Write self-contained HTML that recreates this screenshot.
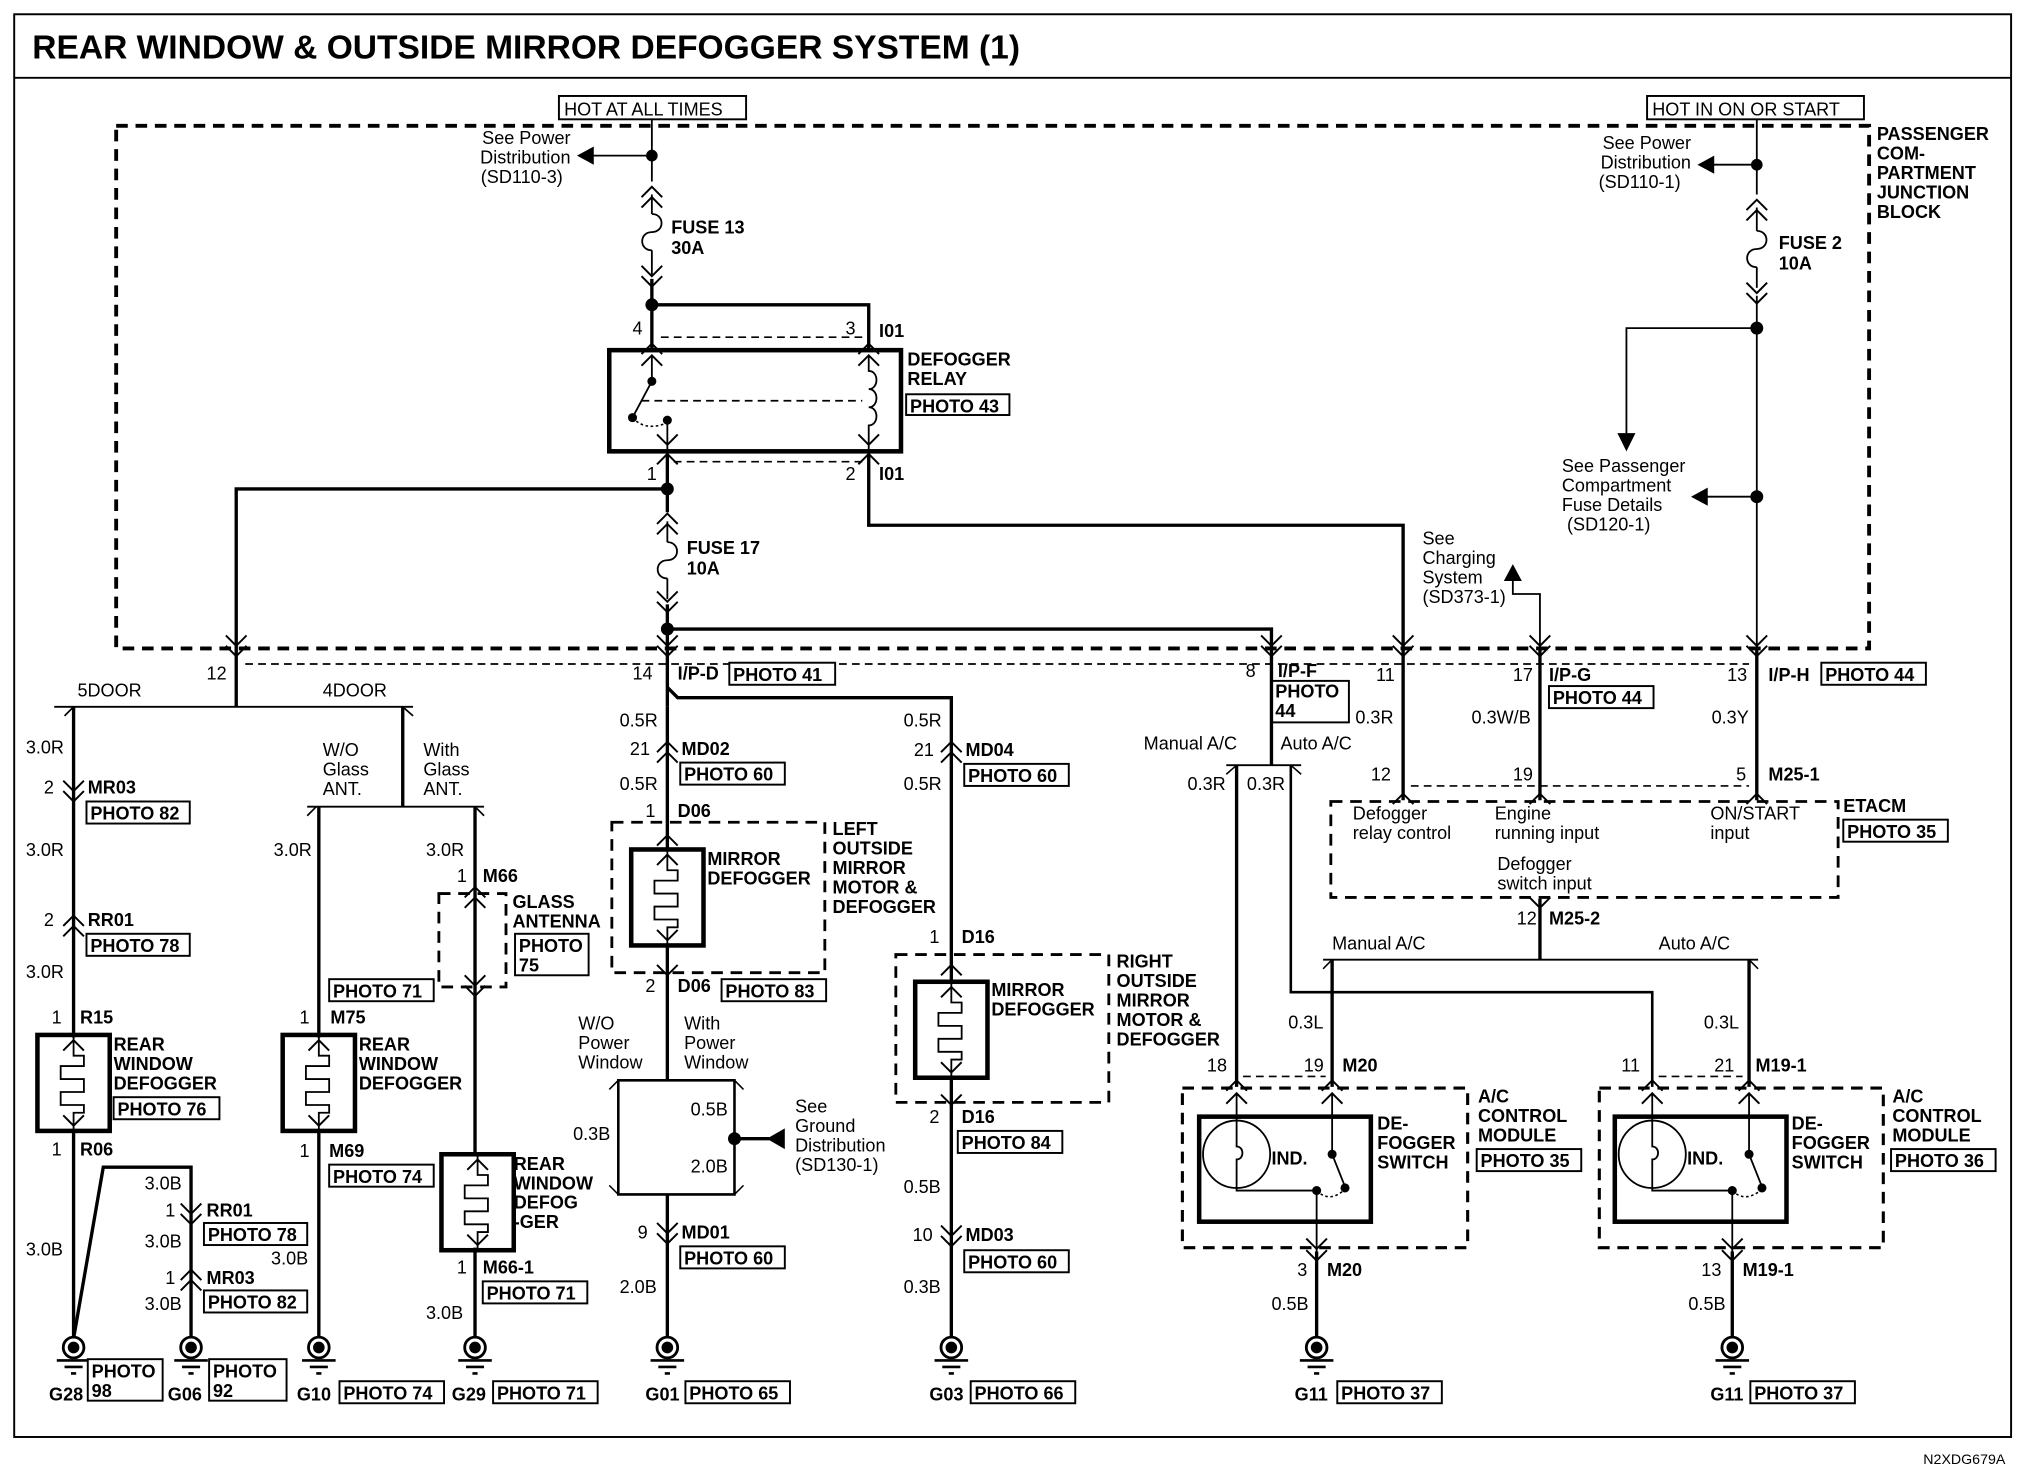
<!DOCTYPE html>
<html><head><meta charset="utf-8"><style>
html,body{margin:0;padding:0;background:#fff}
svg{display:block}
text{font-family:"Liberation Sans",sans-serif;font-size:14px;fill:#000}
.b{font-weight:bold}
.w{fill:none;stroke:#000;stroke-width:2.6}
.t{fill:none;stroke:#000;stroke-width:1.4}
.d{fill:none;stroke:#000;stroke-width:3;stroke-dasharray:9 6}
.dt{fill:none;stroke:#000;stroke-width:1.3;stroke-dasharray:6 4}
.bx{fill:#fff;stroke:#000;stroke-width:1.5}
.hb{fill:none;stroke:#000;stroke-width:3.5}
</style></head><body>
<svg width="2024" height="1472" viewBox="0 0 1568 1135" preserveAspectRatio="none" xmlns="http://www.w3.org/2000/svg">
<defs>
<g id="cd"><path d="M-8,-10 L0,-2 L8,-10 M-8,-2 L0,6 L8,-2" fill="none" stroke="#000" stroke-width="1.5"/></g>
<g id="cu"><path d="M-8,10 L0,2 L8,10 M-8,2 L0,-6 L8,2" fill="none" stroke="#000" stroke-width="1.5"/></g>
<g id="vd"><path d="M-8,-8 L0,0 L8,-8" fill="none" stroke="#000" stroke-width="1.5"/></g>
<g id="vu"><path d="M-8,8 L0,0 L8,8" fill="none" stroke="#000" stroke-width="1.5"/></g>
<g id="gnd"><circle r="8" fill="#fff" stroke="#000" stroke-width="2.2"/><circle r="4.5" fill="#000"/><path d="M-13,10 H13 M-7,15 H7 M-2,20 H2" stroke="#000" stroke-width="2" fill="none"/></g>
<g id="ht"><rect x="0" y="0" width="56" height="74" fill="none" stroke="#000" stroke-width="3.5"/><path d="M28,0 V16 H36 V24 H18 V34 H36 V44 H18 V54 H36 V60 H28 V74" fill="none" stroke="#000" stroke-width="1.4"/><use href="#vu" x="28" y="4"/><use href="#vd" x="28" y="70"/></g>
<g id="fuse"><path d="M0,0 C10,0 10,14 0,14 C-10,14 -10,28 0,28" fill="none" stroke="#000" stroke-width="1.4"/></g>
</defs>
<rect x="0" y="0" width="1568" height="1135" fill="#fff"/>
<rect x="11" y="11" width="1547" height="1097" fill="none" stroke="#000" stroke-width="1.5"/>
<line x1="11" y1="60" x2="1558" y2="60" stroke="#000" stroke-width="1.5"/>
<text x="25" y="45" class="b" style="font-size:26px">REAR WINDOW &amp; OUTSIDE MIRROR DEFOGGER SYSTEM (1)</text>
<text x="1490" y="1129" style="font-size:11px">N2XDG679A</text>

<path class="d" d="M90,97 H1448 V500 H90 Z"/>
<text class="b" x="1454" y="108">PASSENGER</text><text class="b" x="1454" y="123">COM-</text><text class="b" x="1454" y="138">PARTMENT</text><text class="b" x="1454" y="153">JUNCTION</text><text class="b" x="1454" y="168">BLOCK</text>

<rect class="bx" x="433" y="74" width="145" height="18"/><text x="437" y="89">HOT AT ALL TIMES</text>
<path class="t" d="M505,92 V140"/><circle cx="505" cy="120" r="4.5"/>
<path class="t" d="M505,120 H458"/><path d="M447,120 L460,113 L460,127 Z"/>
<text x="442" y="111" text-anchor="end">See Power</text><text x="442" y="126" text-anchor="end">Distribution</text><text x="436" y="141" text-anchor="end">(SD110-3)</text>
<use href="#cu" x="505" y="150"/><use href="#fuse" x="505" y="165"/><path class="t" d="M505,150 V165 M505,193 V212"/><use href="#cd" x="505" y="215"/>
<text class="b" x="520" y="180">FUSE 13</text><text class="b" x="520" y="196">30A</text>
<path class="w" d="M505,215 V270 M505,235 H673 V270"/><circle cx="505" cy="235" r="5"/>
<text x="490" y="258">4</text><text x="655" y="258">3</text><text class="b" x="681" y="260">I01</text>
<path class="dt" d="M512,260 H668"/>
<rect x="472" y="270" width="226" height="78" fill="none" stroke="#000" stroke-width="3.5"/>
<use href="#vu" x="505" y="265"/><use href="#vu" x="505" y="274"/><use href="#vu" x="673" y="265"/><use href="#vu" x="673" y="274"/>
<path class="t" d="M505,274 V294 L490,322"/><circle cx="505" cy="294" r="3.5"/><circle cx="490" cy="322" r="3.5"/><circle cx="517" cy="324" r="3.5"/>
<path d="M490,322 Q500,333 517,326" fill="none" stroke="#000" stroke-width="1.2" stroke-dasharray="2 2"/>
<path class="t" d="M517,324 V348"/><path class="dt" d="M497,309 H668"/>
<path class="t" d="M673,274 V286 C681,286 681,300 673,300 C681,300 681,314 673,314 C681,314 681,328 673,328 V348"/>
<use href="#vd" x="517" y="343"/><use href="#vd" x="673" y="343"/><use href="#vu" x="517" y="350"/><use href="#vu" x="673" y="350"/>
<path class="dt" d="M522,356 H668"/>
<text class="b" x="703" y="282">DEFOGGER</text><text class="b" x="703" y="297">RELAY</text>
<rect class="bx" x="702" y="304" width="80" height="16"/><text class="b" x="705" y="318">PHOTO 43</text>
<text x="501" y="370">1</text><text x="655" y="370">2</text><text class="b" x="681" y="370">I01</text>
<path class="w" d="M517,350 V395"/><circle cx="517" cy="377" r="5"/>
<path class="w" d="M517,377 H183 V500"/><use href="#cd" x="183" y="500"/>
<use href="#cu" x="517" y="402"/><use href="#fuse" x="517" y="418"/><path class="t" d="M517,402 V418 M517,446 V462"/><use href="#cd" x="517" y="466"/>
<text class="b" x="532" y="427">FUSE 17</text><text class="b" x="532" y="443">10A</text>
<path class="w" d="M517,466 V545"/><circle cx="517" cy="485" r="5"/><use href="#cd" x="517" y="500"/>
<path class="w" d="M673,350 V405 H1087 V500"/><use href="#cd" x="1087" y="500"/>
<path class="w" d="M517,485 H985 V500"/><use href="#cd" x="985" y="500"/>

<rect class="bx" x="1276" y="74" width="168" height="18"/><text x="1280" y="89">HOT IN ON OR START</text>
<path class="t" d="M1361,92 V150"/><circle cx="1361" cy="127" r="4.5"/>
<path class="t" d="M1361,127 H1327"/><path d="M1315,127 L1328,120 L1328,134 Z"/>
<text x="1310" y="115" text-anchor="end">See Power</text><text x="1310" y="130" text-anchor="end">Distribution</text><text x="1302" y="145" text-anchor="end">(SD110-1)</text>
<use href="#cu" x="1361" y="160"/><use href="#fuse" x="1361" y="178"/><path class="t" d="M1361,160 V178 M1361,206 V222"/><use href="#cd" x="1361" y="228"/>
<text class="b" x="1378" y="192">FUSE 2</text><text class="b" x="1378" y="208">10A</text>
<path class="t" d="M1361,228 V500 M1361,253 H1260 V335"/><circle cx="1361" cy="253" r="5"/><path d="M1253,334 L1267,334 L1260,348 Z"/>
<circle cx="1361" cy="383" r="5"/><path class="t" d="M1361,383 H1322"/><path d="M1310,383 L1323,376 L1323,390 Z"/>
<text x="1210" y="364">See Passenger</text><text x="1210" y="379">Compartment</text><text x="1210" y="394">Fuse Details</text><text x="1214" y="409">(SD120-1)</text>
<use href="#cd" x="1361" y="500"/>
<text x="1102" y="420">See</text><text x="1102" y="435">Charging</text><text x="1102" y="450">System</text><text x="1102" y="465">(SD373-1)</text>
<path class="t" d="M1193,500 V458 H1172 V446"/><path d="M1165,448 L1179,448 L1172,435 Z"/><use href="#cd" x="1193" y="500"/>

<path class="dt" d="M190,512 H1355"/>
<text x="160" y="524">12</text>
<text x="490" y="524">14</text><text class="b" x="525" y="524">I/P-D</text><rect class="bx" x="565" y="511" width="82" height="17"/><text class="b" x="568" y="525">PHOTO 41</text>
<text x="965" y="522">8</text><text class="b" x="990" y="522">I/P-F</text><rect class="bx" x="985" y="525" width="60" height="32"/><text class="b" x="988" y="538">PHOTO</text><text class="b" x="988" y="553">44</text>
<text x="1066" y="525">11</text>
<text x="1172" y="525">17</text><text class="b" x="1200" y="525">I/P-G</text><rect class="bx" x="1200" y="529" width="81" height="17"/><text class="b" x="1203" y="543">PHOTO 44</text>
<text x="1338" y="525">13</text><text class="b" x="1370" y="525">I/P-H</text><rect class="bx" x="1411" y="511" width="81" height="17"/><text class="b" x="1414" y="525">PHOTO 44</text>

<path class="w" d="M183,500 V545"/><path class="t" d="M42,545 H320"/>
<path d="M57,545 L50,552 M312,545 L320,552" stroke="#000" stroke-width="1.3"/>
<text x="60" y="537">5DOOR</text><text x="250" y="537">4DOOR</text>
<path class="w" d="M57,545 V800 M57,872 V1032"/>
<text x="20" y="581">3.0R</text><text x="34" y="612">2</text><use href="#cd" x="57" y="612"/><text class="b" x="68" y="612">MR03</text>
<rect class="bx" x="67" y="618" width="80" height="17"/><text class="b" x="70" y="632">PHOTO 82</text>
<text x="20" y="660">3.0R</text><text x="34" y="714">2</text><use href="#cu" x="57" y="712"/><text class="b" x="68" y="714">RR01</text>
<rect class="bx" x="67" y="720" width="80" height="17"/><text class="b" x="70" y="734">PHOTO 78</text>
<text x="20" y="754">3.0R</text><text x="40" y="789">1</text><text class="b" x="62" y="789">R15</text>
<use href="#ht" x="29" y="798"/>
<text class="b" x="88" y="810">REAR</text><text class="b" x="88" y="825">WINDOW</text><text class="b" x="88" y="840">DEFOGGER</text>
<rect class="bx" x="88" y="846" width="82" height="17"/><text class="b" x="91" y="860">PHOTO 76</text>
<text x="40" y="891">1</text><text class="b" x="62" y="891">R06</text>
<text x="20" y="968">3.0B</text>
<path class="w" d="M57,1032 L80,900 H148 V1032"/>
<text x="112" y="917">3.0B</text><text x="128" y="938">1</text><use href="#cd" x="148" y="938"/><text class="b" x="160" y="938">RR01</text>
<rect class="bx" x="158" y="943" width="80" height="17"/><text class="b" x="161" y="957">PHOTO 78</text>
<text x="112" y="962">3.0B</text><text x="210" y="975">3.0B</text>
<text x="128" y="990">1</text><use href="#cu" x="148" y="985"/><text class="b" x="160" y="990">MR03</text>
<text x="112" y="1010">3.0B</text>
<rect class="bx" x="158" y="995" width="80" height="17"/><text class="b" x="161" y="1009">PHOTO 82</text>
<use href="#gnd" x="57" y="1039"/><use href="#gnd" x="148" y="1039"/>
<text class="b" x="38" y="1080">G28</text><rect class="bx" x="68" y="1048" width="58" height="32"/><text class="b" x="71" y="1062">PHOTO</text><text class="b" x="71" y="1077">98</text>
<text class="b" x="130" y="1080">G06</text><rect class="bx" x="162" y="1048" width="60" height="32"/><text class="b" x="165" y="1062">PHOTO</text><text class="b" x="165" y="1077">92</text>

<path class="w" d="M312,545 V622"/><path class="t" d="M238,622 H375"/>
<path d="M245,622 L238,629 M368,622 L375,629" stroke="#000" stroke-width="1.3"/>
<text x="250" y="583">W/O</text><text x="250" y="598">Glass</text><text x="250" y="613">ANT.</text>
<text x="328" y="583">With</text><text x="328" y="598">Glass</text><text x="328" y="613">ANT.</text>
<path class="w" d="M247,622 V800 M247,872 V1032"/>
<text x="212" y="660">3.0R</text><text x="232" y="789">1</text><text class="b" x="256" y="789">M75</text>
<use href="#ht" x="219" y="798"/>
<rect class="bx" x="255" y="755" width="81" height="17"/><text class="b" x="258" y="769">PHOTO 71</text>
<text class="b" x="278" y="810">REAR</text><text class="b" x="278" y="825">WINDOW</text><text class="b" x="278" y="840">DEFOGGER</text>
<text x="232" y="892">1</text><text class="b" x="255" y="892">M69</text>
<rect class="bx" x="255" y="898" width="81" height="17"/><text class="b" x="258" y="912">PHOTO 74</text>
<use href="#gnd" x="247" y="1039"/>
<text class="b" x="230" y="1080">G10</text><rect class="bx" x="263" y="1065" width="81" height="17"/><text class="b" x="266" y="1079">PHOTO 74</text>

<path class="w" d="M368,622 V890 M368,962 V1032"/>
<text x="330" y="660">3.0R</text><text x="354" y="680">1</text><text class="b" x="374" y="680">M66</text>
<use href="#cu" x="368" y="690"/>
<path class="d" d="M340,689 H392 V761 H340 Z" style="stroke-width:2.2"/>
<use href="#cd" x="368" y="762"/>
<text class="b" x="397" y="700">GLASS</text><text class="b" x="397" y="715">ANTENNA</text>
<rect class="bx" x="399" y="720" width="57" height="32"/><text class="b" x="402" y="734">PHOTO</text><text class="b" x="402" y="749">75</text>
<use href="#ht" x="342" y="890"/>
<text class="b" x="398" y="902">REAR</text><text class="b" x="398" y="917">WINDOW</text><text class="b" x="398" y="932">DEFOG</text><text class="b" x="398" y="947">-GER</text>
<text x="354" y="982">1</text><text class="b" x="374" y="982">M66-1</text>
<rect class="bx" x="374" y="988" width="81" height="17"/><text class="b" x="377" y="1002">PHOTO 71</text>
<text x="330" y="1017">3.0B</text>
<use href="#gnd" x="368" y="1039"/>
<text class="b" x="350" y="1080">G29</text><rect class="bx" x="382" y="1065" width="81" height="17"/><text class="b" x="385" y="1079">PHOTO 71</text>

<path class="w" d="M517,545 V655 M517,730 V833"/>
<text x="480" y="560">0.5R</text><text x="488" y="582">21</text><use href="#cu" x="517" y="578"/><text class="b" x="528" y="582">MD02</text>
<rect class="bx" x="527" y="588" width="81" height="17"/><text class="b" x="530" y="602">PHOTO 60</text>
<text x="480" y="609">0.5R</text><text x="500" y="630">1</text><text class="b" x="525" y="630">D06</text>
<path class="d" d="M474,634 H639 V750 H474 Z" style="stroke-width:2.2"/>
<use href="#ht" x="489" y="655"/><use href="#vu" x="517" y="644"/>
<text class="b" x="548" y="667">MIRROR</text><text class="b" x="548" y="682">DEFOGGER</text>
<text class="b" x="645" y="644">LEFT</text><text class="b" x="645" y="659">OUTSIDE</text><text class="b" x="645" y="674">MIRROR</text><text class="b" x="645" y="689">MOTOR &amp;</text><text class="b" x="645" y="704">DEFOGGER</text>
<use href="#vd" x="517" y="752"/>
<text x="500" y="765">2</text><text class="b" x="525" y="765">D06</text><rect class="bx" x="559" y="755" width="81" height="17"/><text class="b" x="562" y="769">PHOTO 83</text>
<text x="448" y="794">W/O</text><text x="448" y="809">Power</text><text x="448" y="824">Window</text>
<text x="530" y="794">With</text><text x="530" y="809">Power</text><text x="530" y="824">Window</text>
<path class="t" d="M479,833 H569 V921 H479 Z" style="stroke-width:2"/>
<path d="M479,833 L472,840 M569,833 L576,840 M479,921 L472,914 M569,921 L576,914" stroke="#000" stroke-width="1.2"/>
<circle cx="569" cy="878" r="5"/><path class="w" d="M569,878 H596"/><path d="M594,878 L608,870 L608,886 Z"/>
<text x="616" y="858">See</text><text x="616" y="873">Ground</text><text x="616" y="888">Distribution</text><text x="616" y="903">(SD130-1)</text>
<text x="535" y="860">0.5B</text><text x="535" y="904">2.0B</text><text x="444" y="879">0.3B</text>
<path class="w" d="M517,921 V1032"/>
<text x="494" y="955">9</text><use href="#cd" x="517" y="953"/><text class="b" x="528" y="955">MD01</text>
<rect class="bx" x="527" y="961" width="81" height="17"/><text class="b" x="530" y="975">PHOTO 60</text>
<text x="480" y="997">2.0B</text>
<use href="#gnd" x="517" y="1039"/>
<text class="b" x="500" y="1080">G01</text><rect class="bx" x="531" y="1065" width="81" height="17"/><text class="b" x="534" y="1079">PHOTO 65</text>

<path class="w" d="M517,530 L525,538 H737 V757 M737,830 V1032"/>
<text x="700" y="560">0.5R</text><text x="708" y="583">21</text><use href="#cu" x="737" y="578"/><text class="b" x="748" y="583">MD04</text>
<rect class="bx" x="747" y="589" width="81" height="17"/><text class="b" x="750" y="603">PHOTO 60</text>
<text x="700" y="609">0.5R</text><text x="720" y="727">1</text><text class="b" x="745" y="727">D16</text>
<path class="d" d="M694,736 H859 V850 H694 Z" style="stroke-width:2.2"/>
<use href="#ht" x="709" y="757"/><use href="#vu" x="737" y="744"/>
<text class="b" x="768" y="768">MIRROR</text><text class="b" x="768" y="783">DEFOGGER</text>
<text class="b" x="865" y="746">RIGHT</text><text class="b" x="865" y="761">OUTSIDE</text><text class="b" x="865" y="776">MIRROR</text><text class="b" x="865" y="791">MOTOR &amp;</text><text class="b" x="865" y="806">DEFOGGER</text>
<use href="#vd" x="737" y="852"/>
<text x="720" y="866">2</text><text class="b" x="745" y="866">D16</text>
<rect class="bx" x="742" y="872" width="81" height="17"/><text class="b" x="745" y="886">PHOTO 84</text>
<text x="700" y="920">0.5B</text><text x="707" y="957">10</text><use href="#cd" x="737" y="955"/><text class="b" x="748" y="957">MD03</text>
<rect class="bx" x="747" y="964" width="81" height="17"/><text class="b" x="750" y="978">PHOTO 60</text>
<text x="700" y="997">0.3B</text>
<use href="#gnd" x="737" y="1039"/>
<text class="b" x="720" y="1080">G03</text><rect class="bx" x="752" y="1065" width="81" height="17"/><text class="b" x="755" y="1079">PHOTO 66</text>

<path class="w" d="M985,500 V590"/><path class="t" d="M950,590 H1008"/>
<path d="M958,590 L950,597 M1000,590 L1008,597" stroke="#000" stroke-width="1.2"/>
<text x="886" y="578">Manual A/C</text><text x="992" y="578">Auto A/C</text>
<text x="920" y="609">0.3R</text><text x="966" y="609">0.3R</text>
<path class="w" d="M958,590 V838"/><path class="t" d="M1000,590 V765 H1280 V838" style="stroke-width:2"/>

<path class="w" d="M1087,500 V617 M1193,500 V617 M1361,500 V617"/>
<text x="1050" y="558">0.3R</text><text x="1140" y="558">0.3W/B</text><text x="1326" y="558">0.3Y</text>
<text x="1062" y="602">12</text><text x="1172" y="602">19</text><text x="1345" y="602">5</text><text class="b" x="1370" y="602">M25-1</text>
<path class="dt" d="M1093,606 H1355"/>
<use href="#vu" x="1087" y="612"/><use href="#vu" x="1193" y="612"/><use href="#vu" x="1361" y="612"/>
<path class="d" d="M1031,618 H1424 V692 H1031 Z" style="stroke-width:2.2"/>
<text x="1048" y="632">Defogger</text><text x="1048" y="647">relay control</text>
<text x="1158" y="632">Engine</text><text x="1158" y="647">running input</text>
<text x="1325" y="632">ON/START</text><text x="1325" y="647">input</text>
<text x="1160" y="671">Defogger</text><text x="1160" y="686">switch input</text>
<text class="b" x="1428" y="626">ETACM</text><rect class="bx" x="1428" y="632" width="81" height="17"/><text class="b" x="1431" y="646">PHOTO 35</text>
<use href="#vd" x="1193" y="700"/>
<text x="1175" y="713">12</text><text class="b" x="1200" y="713">M25-2</text>
<path class="w" d="M1193,693 V740"/><path class="t" d="M1025,740 H1362"/>
<path d="M1032,740 L1025,747 M1355,740 L1362,747" stroke="#000" stroke-width="1.2"/>
<text x="1032" y="732">Manual A/C</text><text x="1285" y="732">Auto A/C</text>
<path class="w" d="M1032,740 V838 M1355,740 V838"/>
<text x="998" y="793">0.3L</text><text x="1320" y="793">0.3L</text>

<text x="935" y="826">18</text><text x="1010" y="826">19</text><text class="b" x="1040" y="826">M20</text>
<path class="dt" d="M963,830 H1027"/>
<use href="#vu" x="958" y="833"/><use href="#vu" x="1032" y="833"/>
<path class="d" d="M916,839 H1137 V962 H916 Z" style="stroke-width:2.4"/>
<use href="#vu" x="958" y="843"/><use href="#vu" x="1032" y="843"/>
<rect x="929" y="861" width="133" height="81" fill="none" stroke="#000" stroke-width="3.5"/>
<circle cx="958" cy="890" r="26" fill="none" stroke="#000" stroke-width="1.4"/>
<path class="t" d="M958,843 V884 C964,884 964,894 958,894 V918 H1020"/>
<path class="t" d="M1032,843 V890 L1042,915"/><circle cx="1032" cy="890" r="3.5"/><circle cx="1042" cy="916" r="3.5"/><circle cx="1020" cy="918" r="3.5"/>
<path d="M1020,918 Q1030,928 1042,917" fill="none" stroke="#000" stroke-width="1.2" stroke-dasharray="2 2"/>
<path class="t" d="M1020,918 V965"/>
<text class="b" x="985" y="898">IND.</text>
<text class="b" x="1067" y="871">DE-</text><text class="b" x="1067" y="886">FOGGER</text><text class="b" x="1067" y="901">SWITCH</text>
<text class="b" x="1145" y="850">A/C</text><text class="b" x="1145" y="865">CONTROL</text><text class="b" x="1145" y="880">MODULE</text>
<rect class="bx" x="1144" y="886" width="81" height="17"/><text class="b" x="1147" y="900">PHOTO 35</text>
<use href="#vd" x="1020" y="963"/><use href="#vd" x="1020" y="972"/>
<path class="w" d="M1020,965 V1032"/>
<text x="1005" y="984">3</text><text class="b" x="1028" y="984">M20</text><text x="985" y="1010">0.5B</text>
<use href="#gnd" x="1020" y="1039"/>
<text class="b" x="1003" y="1080">G11</text><rect class="bx" x="1036" y="1065" width="81" height="17"/><text class="b" x="1039" y="1079">PHOTO 37</text>

<text x="1256" y="826">11</text><text x="1328" y="826">21</text><text class="b" x="1360" y="826">M19-1</text>
<path class="dt" d="M1285,830 H1350"/>
<use href="#vu" x="1280" y="833"/><use href="#vu" x="1355" y="833"/>
<path class="d" d="M1239,839 H1459 V962 H1239 Z" style="stroke-width:2.4"/>
<use href="#vu" x="1280" y="843"/><use href="#vu" x="1355" y="843"/>
<rect x="1251" y="861" width="133" height="81" fill="none" stroke="#000" stroke-width="3.5"/>
<circle cx="1280" cy="890" r="26" fill="none" stroke="#000" stroke-width="1.4"/>
<path class="t" d="M1280,843 V884 C1286,884 1286,894 1280,894 V918 H1342"/>
<path class="t" d="M1355,843 V890 L1365,915"/><circle cx="1355" cy="890" r="3.5"/><circle cx="1365" cy="916" r="3.5"/><circle cx="1342" cy="918" r="3.5"/>
<path d="M1342,918 Q1352,928 1365,917" fill="none" stroke="#000" stroke-width="1.2" stroke-dasharray="2 2"/>
<path class="t" d="M1342,918 V965"/>
<text class="b" x="1307" y="898">IND.</text>
<text class="b" x="1388" y="871">DE-</text><text class="b" x="1388" y="886">FOGGER</text><text class="b" x="1388" y="901">SWITCH</text>
<text class="b" x="1466" y="850">A/C</text><text class="b" x="1466" y="865">CONTROL</text><text class="b" x="1466" y="880">MODULE</text>
<rect class="bx" x="1465" y="886" width="81" height="17"/><text class="b" x="1468" y="900">PHOTO 36</text>
<use href="#vd" x="1342" y="963"/><use href="#vd" x="1342" y="972"/>
<path class="w" d="M1342,965 V1032"/>
<text x="1318" y="984">13</text><text class="b" x="1350" y="984">M19-1</text><text x="1308" y="1010">0.5B</text>
<use href="#gnd" x="1342" y="1039"/>
<text class="b" x="1325" y="1080">G11</text><rect class="bx" x="1356" y="1065" width="81" height="17"/><text class="b" x="1359" y="1079">PHOTO 37</text>
</svg>
</body></html>
